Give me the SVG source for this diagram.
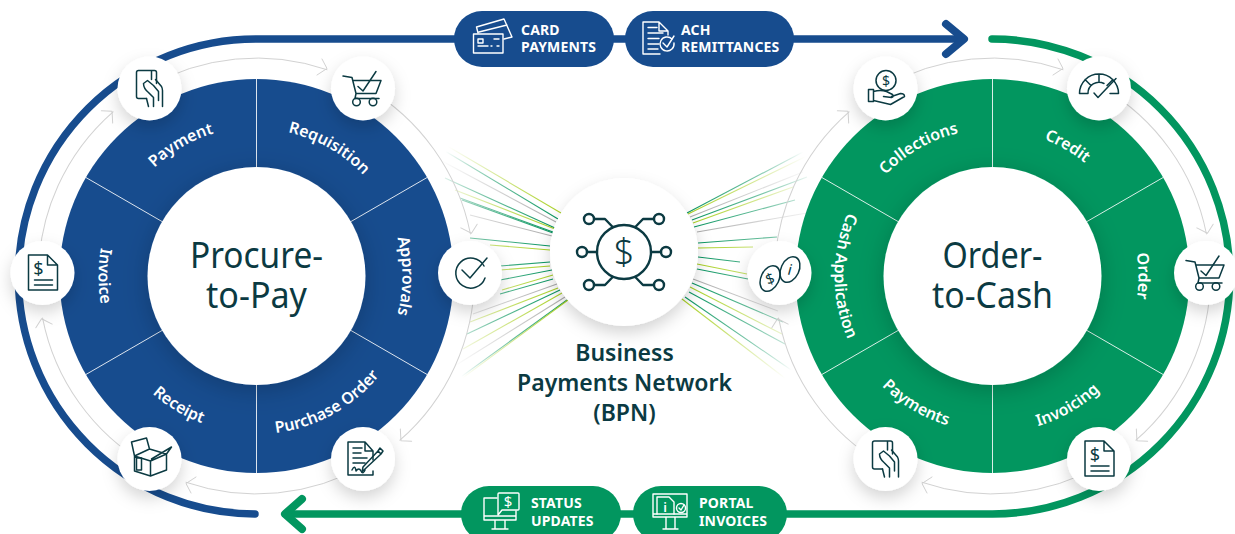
<svg xmlns="http://www.w3.org/2000/svg" width="1235" height="534" viewBox="0 0 1235 534">
<style>
text{font-family:"Noto Sans","Open Sans","Liberation Sans",sans-serif}
.seg{fill:#fff;font-size:16px;font-weight:600;text-anchor:middle}
.title{fill:#0b3a42;font-size:37px;text-anchor:middle}
.bpn{fill:#0b3a42;font-size:23px;font-weight:600;text-anchor:middle}
.pill{fill:#fff;font-size:14px;font-weight:700;letter-spacing:.15px}
.div{stroke:#fff;stroke-width:1;opacity:.85}
.ic{fill:none;stroke:#0b3a42;stroke-width:1.5;stroke-linejoin:round;stroke-linecap:round}
.iw{fill:none;stroke:#fff;stroke-width:1.4;stroke-linejoin:round;stroke-linecap:round}
.gr{fill:none;stroke:#d2d2d2;stroke-width:1}
.ray{fill:none;stroke-width:1.1}
.g{stroke:url(#rg)}.l{stroke:url(#rl)}.k{stroke:url(#rk)}
.d{fill:#0b3a42;font-size:20px;text-anchor:middle;stroke:none}
.dw{fill:#fff;text-anchor:middle;stroke:none}
</style>
<defs>
<filter id="sh" x="-40%" y="-40%" width="180%" height="190%"><feDropShadow dx="0" dy="7" stdDeviation="8" flood-color="#000" flood-opacity=".17"/></filter>
<filter id="shin" x="-20%" y="-20%" width="140%" height="140%"><feDropShadow dx="0" dy="5" stdDeviation="12" flood-color="#000" flood-opacity=".2"/></filter>
<radialGradient id="rg" gradientUnits="userSpaceOnUse" cx="624" cy="252" r="205"><stop offset=".35" stop-color="#02915c"/><stop offset=".6" stop-color="#4fb48c"/><stop offset="1" stop-color="#02915c" stop-opacity="0"/></radialGradient>
<radialGradient id="rl" gradientUnits="userSpaceOnUse" cx="624" cy="252" r="205"><stop offset=".35" stop-color="#a6cf1e"/><stop offset=".6" stop-color="#c5df6a"/><stop offset="1" stop-color="#c5df6a" stop-opacity="0"/></radialGradient>
<radialGradient id="rk" gradientUnits="userSpaceOnUse" cx="624" cy="252" r="205"><stop offset=".35" stop-color="#a8a8a8"/><stop offset=".6" stop-color="#c8c8c8"/><stop offset="1" stop-color="#c8c8c8" stop-opacity="0"/></radialGradient>
<g id="arc"><path class="gr" d="M-109 -188.8A218 218 0 0 1 70.5 -206.3"/><path class="gr" d="M65.5 -217L70.5 -207.5L60.5 -201"/></g>
<path id="p1" d="M-114.100 -95.800A149 149 0 0 1 114.100 -95.800"/>
<path id="p2" d="M-112.600 -94.500A147 147 0 0 1 112.600 -94.500"/>
<path id="p3" d="M-111.800 -93.900A146 146 0 0 1 111.800 -93.900"/>
<path id="b1" d="M-121 101.600A158 158 0 0 0 121 101.600"/>
<path id="b2" d="M-120.300 100.900A157 157 0 0 0 120.300 100.900"/>
<path id="b3" d="M-119.500 100.300A156 156 0 0 0 119.500 100.300"/>
<g id="iHand" class="ic"><path d="M-3 10H-11Q-13 10 -13 8V-16Q-13 -18 -11 -18H5Q7 -18 7 -16V-5M2 -18V-9"/><path d="M6 -9L12 -2Q13 0 13 2V18M-6 -5L-2 -8L4 -3L9 3V12M-6 -5Q-6 0 -1 4L4 9V18M-3 10L-1 18"/></g>
<g id="iCart" class="ic"><path d="M-20 -12.500L-11 -11L-7 5H13L18 -8H-10M-7 5L-8 10H16"/><circle cx="-6.500" cy="13.500" r="3.800"/><circle cx="10" cy="13.500" r="3.800"/><path d="M-5 -2L0 2.500L13 -17"/></g>
<g id="iCheck" class="ic"><path d="M14 -7A15 15 0 1 0 15 5"/><path d="M-8 -3L0 5L17 -15"/></g>
<g id="iSign" class="ic"><path d="M-15 -17H2L10 -8V1M-15 -17V16H10V12M2 -17V-8H10"/><path d="M-10 -11H-1M-10 -6H-2M-10 -1H4M-10 4H2"/><path d="M-11 11Q-8 5 -7 12Q-4 8 -2 12T2 11"/><path d="M2 10L-1 13L0 8L15 -8L18 -5ZM15 -8L17 -11L20 -8L18 -5"/></g>
<g id="iBox" class="ic"><path d="M-15 -3V12L1 17L17 11V-5L1 2L-15 -3ZM1 2V17M-18 -17L-3 -21L0 -10L-15 -3ZM0 -10L17 -5L22 -12L2 0"/><path d="M-13 -1H-8V11H-13Z"/></g>
<g id="iDoc" class="ic"><path d="M-14 -18H5L15 -8V17H-14ZM5 -18V-8H15M-8 7H10M-8 12H10"/><text class="d" x="-4" y="2" style="font-size:18px">$</text></g>
<g id="iCoin" class="ic"><circle cx="0.500" cy="-8" r="10"/><text class="d" x="0.500" y="-3" style="font-size:14px">$</text><path d="M-17 1H-12V13H-17ZM-12 3Q-5 1 1 3L7 6Q9 8 6 9L-2 8M6 8L15 5Q19 5 19 8L5 16L-12 12"/></g>
<g id="iGauge" class="ic"><path d="M-19.500 5A19.500 19.500 0 0 1 19.500 5H11M-19.500 5H-11A11 11 0 0 1 5 -5M-14 -9L-8 -3M0 -14V-7M14 -9L8 -3"/><path d="M-5 4.500L-1 9L17 -10"/></g>
<g id="iLink" class="ic"><ellipse cx="-9.500" cy="5.500" rx="9" ry="13.500" transform="rotate(25 -9.500 5.500)"/><ellipse cx="10.500" cy="-3.500" rx="9" ry="13.500" transform="rotate(25 10.500 -3.500)"/><text class="d" x="-9.500" y="11" transform="rotate(-20 -9.500 5.500)" style="font-size:15px">$</text><text class="d" x="10.500" y="2" transform="rotate(15 10.500 -3.500)" style="font-size:15px">i</text></g>
</defs>

<rect width="1235" height="534" fill="#fff"/>

<g id="rays">
<path class="ray l" d="M561 213L420 130"/><path class="ray g" d="M558 219L435 145"/><path class="ray k" d="M556 222L440 160"/><path class="ray g" d="M555 228L445 178"/><path class="ray l" d="M555 229L455 190"/><path class="ray g" d="M553 232L460 198"/><path class="ray g" d="M553 233L462 200"/><path class="ray k" d="M552 236L470 215"/><path class="ray g" d="M550 246L470 238"/><path class="ray l" d="M550 250L490 245"/><path class="ray g" d="M550 262L500 266"/><path class="ray l" d="M550 266L500 270"/><path class="ray g" d="M552 270L500 280"/><path class="ray l" d="M553 275L502 290"/><path class="ray g" d="M553 279L500 294"/><path class="ray k" d="M557 284L473 314"/><path class="ray l" d="M558 288L470 322"/><path class="ray g" d="M560 290L467 334"/><path class="ray l" d="M562 293L463 349"/><path class="ray k" d="M565 297L453 367"/><path class="ray g" d="M567 300L447 387"/><path class="ray l" d="M568 300L449 388"/>
<path class="ray g" d="M687 213L820 143"/><path class="ray l" d="M688 214L815 152"/><path class="ray k" d="M690 217L803 172"/><path class="ray g" d="M692 220L807 177"/><path class="ray l" d="M693 223L793 187"/><path class="ray g" d="M694 227L795 200"/><path class="ray k" d="M697 232L807 213"/><path class="ray g" d="M698 243L777 237"/><path class="ray l" d="M698 248L753 247"/><path class="ray g" d="M698 257L740 262"/><path class="ray l" d="M697 264L747 274"/><path class="ray g" d="M697 269L748 279"/><path class="ray k" d="M693 279L778 311"/><path class="ray g" d="M692 283L783 322"/><path class="ray l" d="M690 287L782 334"/><path class="ray g" d="M689 292L785 344"/><path class="ray g" d="M685 297L797 374"/><path class="ray l" d="M682 299L803 392"/>
</g>

<g id="connectors" fill="none" stroke-linecap="round" stroke-linejoin="round">
<path stroke="#174c8e" stroke-width="7.5" d="M255 514A237.500 237.500 0 0 1 256.500 39H962"/>
<path stroke="#174c8e" stroke-width="8" d="M946 24L964 39L946 54"/>
<path stroke="#02965f" stroke-width="7.5" d="M992 39A237.500 237.500 0 0 1 992.500 514H287"/>
<path stroke="#02965f" stroke-width="8" d="M302 499L285 514L302 529"/>
<g transform="translate(256.500 276)"><use href="#arc"/><use href="#arc" transform="rotate(60)"/><use href="#arc" transform="rotate(120)"/><use href="#arc" transform="rotate(180)"/><use href="#arc" transform="rotate(240)"/><use href="#arc" transform="rotate(300)"/></g>
<g transform="translate(992.500 276)"><use href="#arc"/><use href="#arc" transform="rotate(60)"/><use href="#arc" transform="rotate(120)"/><use href="#arc" transform="rotate(180)"/><use href="#arc" transform="rotate(240)"/><use href="#arc" transform="rotate(300)"/></g>
</g>

<g id="wheel-procure" transform="translate(256.500 276)">
<circle r="197" fill="#174c8e"/>
<path class="div" d="M0 -197V-100M0 197V100M170.600 -98.500L85 -49M-170.600 -98.500L-85 -49M170.600 98.500L85 49M-170.600 98.500L-85 49"/>
<circle r="109" fill="#fff" filter="url(#shin)"/>
<text class="seg" transform="rotate(-30)"><textPath href="#p1" startOffset="50%">Payment</textPath></text>
<text class="seg" transform="rotate(29.500)"><textPath href="#p2" startOffset="50%">Requisition</textPath></text>
<text class="seg" transform="rotate(90)"><textPath href="#p3" startOffset="50%">Approvals</textPath></text>
<text class="seg" transform="rotate(-29)"><textPath href="#b1" startOffset="50%">Purchase Order</textPath></text>
<text class="seg" transform="rotate(31)"><textPath href="#b2" startOffset="50%">Receipt</textPath></text>
<text class="seg" transform="rotate(90)"><textPath href="#b1" startOffset="50%">Invoice</textPath></text>
<text class="title"><tspan x="0" y="-8" textLength="133" lengthAdjust="spacingAndGlyphs">Procure-</tspan><tspan x="0" y="32" textLength="101" lengthAdjust="spacingAndGlyphs">to-Pay</tspan></text>
</g>

<g id="wheel-order" transform="translate(992.500 276)">
<circle r="197" fill="#02965f"/>
<path class="div" d="M0 -197V-100M0 197V100M170.600 -98.500L85 -49M-170.600 -98.500L-85 -49M170.600 98.500L85 49M-170.600 98.500L-85 49"/>
<circle r="109" fill="#fff" filter="url(#shin)"/>
<text class="seg" transform="rotate(-30)"><textPath href="#p2" startOffset="50%">Collections</textPath></text>
<text class="seg" transform="rotate(30)"><textPath href="#p3" startOffset="50%">Credit</textPath></text>
<text class="seg" transform="rotate(90)"><textPath href="#p3" startOffset="50%">Order</textPath></text>
<text class="seg" transform="rotate(-30)"><textPath href="#b2" startOffset="50%">Invoicing</textPath></text>
<text class="seg" transform="rotate(31)"><textPath href="#b3" startOffset="50%">Payments</textPath></text>
<text class="seg" transform="rotate(90)"><textPath href="#b1" startOffset="50%">Cash Application</textPath></text>
<text class="title"><tspan x="0" y="-8" textLength="100" lengthAdjust="spacingAndGlyphs">Order-</tspan><tspan x="0" y="32" textLength="121" lengthAdjust="spacingAndGlyphs">to-Cash</tspan></text>
</g>

<g id="n-payment" transform="translate(149.500 88.500)"><circle r="32" fill="#fff" filter="url(#sh)"/><use href="#iHand"/></g>
<g id="n-requisition" transform="translate(363 88.500)"><circle r="32" fill="#fff" filter="url(#sh)"/><use href="#iCart"/></g>
<g id="n-approvals" transform="translate(470 273)"><circle r="32" fill="#fff" filter="url(#sh)"/><use href="#iCheck"/></g>
<g id="n-po" transform="translate(363 459)"><circle r="32" fill="#fff" filter="url(#sh)"/><use href="#iSign"/></g>
<g id="n-receipt" transform="translate(149.500 459)"><circle r="32" fill="#fff" filter="url(#sh)"/><use href="#iBox"/></g>
<g id="n-invoice" transform="translate(42.500 273)"><circle r="32" fill="#fff" filter="url(#sh)"/><use href="#iDoc"/></g>
<g id="n-collections" transform="translate(885.500 88.500)"><circle r="32" fill="#fff" filter="url(#sh)"/><use href="#iCoin"/></g>
<g id="n-credit" transform="translate(1099 88.500)"><circle r="32" fill="#fff" filter="url(#sh)"/><use href="#iGauge"/></g>
<g id="n-order" transform="translate(1206 273)"><circle r="32" fill="#fff" filter="url(#sh)"/><use href="#iCart"/></g>
<g id="n-invoicing" transform="translate(1099 459)"><circle r="32" fill="#fff" filter="url(#sh)"/><use href="#iDoc"/></g>
<g id="n-payments" transform="translate(885.500 459)"><circle r="32" fill="#fff" filter="url(#sh)"/><use href="#iHand"/></g>
<g id="n-cash" transform="translate(779.500 273)"><circle r="32" fill="#fff" filter="url(#sh)"/><use href="#iLink"/></g>

<g id="n-bpn">
<circle cx="624" cy="252" r="74" fill="#fff" filter="url(#sh)"/>
<g class="ic" style="stroke-width:2.400" transform="translate(624 252)">
<circle r="27"/>
<text class="d" y="13" style="font-size:36px;font-weight:300">$</text>
<path d="M-11.300 -25L-19 -33H-29M11.300 -25L19 -33H29M-27 0H-37M27 0H37M-11.300 25L-19 33H-29M11.300 25L19 33H29"/>
<circle cx="-35" cy="-33" r="5"/><circle cx="35" cy="-33" r="5"/><circle cx="-42" r="5"/><circle cx="42" r="5"/><circle cx="-35" cy="33" r="5"/><circle cx="35" cy="33" r="5"/>
</g>
<text class="bpn" x="624.500" y="361">Business</text>
<text class="bpn" x="624.500" y="391">Payments Network</text>
<text class="bpn" x="624.500" y="421">(BPN)</text>
</g>

<g id="p-card">
<rect x="454" y="11" width="160" height="56" rx="28" fill="#174c8e"/>
<g class="iw"><path d="M473.500 34H503V53H473.500Z"/><path d="M478 33L476.500 27L504 19L512 37L504 39M479 32L507 25"/><path d="M478 39H483V43H478ZM478 46H488M491 46H492M497 46H499M494 39H499"/></g>
<text class="pill" x="521" y="35">CARD</text><text class="pill" x="521" y="52">PAYMENTS</text>
</g>
<g id="p-ach">
<rect x="625" y="11" width="169" height="56" rx="28" fill="#174c8e"/>
<g class="iw"><path d="M660 54H643V22H659L668 31V35M659 22V31H668M648 27.500H657M648 33H663M648 38.500H659M648 44H659M648 49H658"/><path d="M672 39A7 7 0 1 0 674 43"/><path d="M663 43L667 47L674 36"/></g>
<text class="pill" x="681" y="35">ACH</text><text class="pill" x="681" y="52">REMITTANCES</text>
</g>
<g id="p-status">
<rect x="461" y="486" width="160" height="56" rx="28" fill="#02965f"/>
<g class="iw"><path d="M497 498H484V520H516V511M484 516H516M495 520V529M505 520V529M492 529H508"/><path d="M498 494Q498 493 499 493H518Q519 493 519 494V509Q519 510 518 510H502L498 515Z"/><text class="dw" x="508" y="507" style="font-size:15px">$</text></g>
<text class="pill" x="531" y="508">STATUS</text><text class="pill" x="531" y="526">UPDATES</text>
</g>
<g id="p-portal">
<rect x="633" y="486" width="154" height="56" rx="28" fill="#02965f"/>
<g class="iw"><path d="M653 494H687V517H653ZM653 514H687M666 517V529M675 517V529M663 529H678"/><path d="M657 514V497H669L674 502V514"/><circle cx="681" cy="508" r="4.500"/><path d="M679 508L681 510L684 505"/><text class="dw" x="665" y="512" style="font-size:13px;font-weight:600">i</text></g>
<text class="pill" x="699" y="508">PORTAL</text><text class="pill" x="699" y="526">INVOICES</text>
</g>
</svg>
